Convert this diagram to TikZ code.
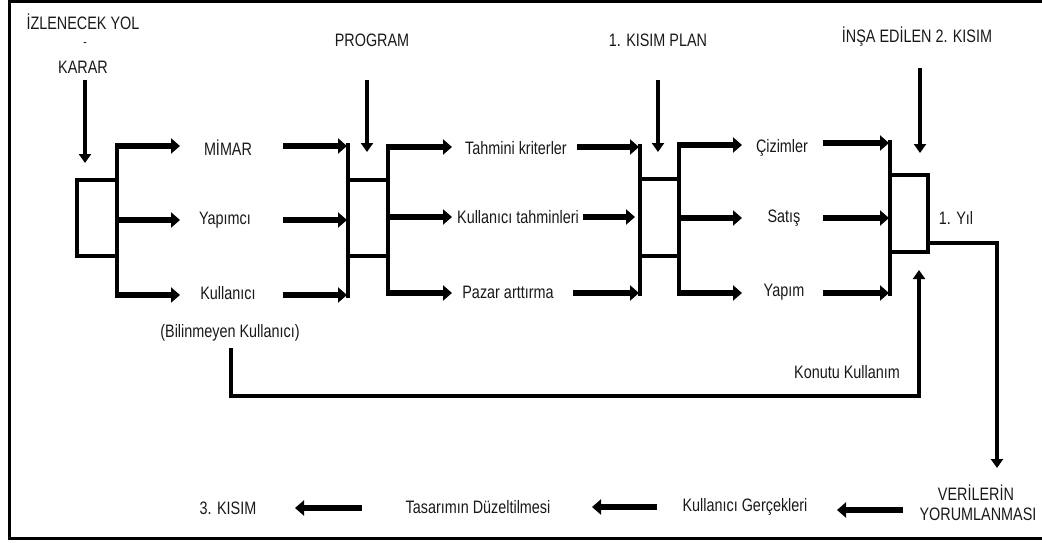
\documentclass[tikz,border=0pt]{standalone}
\usepackage{fontspec}
\setmainfont{Liberation Sans}
\usepackage{graphicx}
\usetikzlibrary{arrows.meta}
\newcommand{\nx}[1]{\scalebox{0.8}[1]{#1}}
\begin{document}
\begin{tikzpicture}[x=1pt,y=-1pt,
  lbl/.style={font=\fontsize{18}{20}\selectfont, inner sep=0pt, text=black!90},
  big/.style={line width=6pt, -{Triangle[length=9pt,width=15pt]}},
  down/.style={line width=4pt, -{Triangle[length=9pt,width=12pt]}},
  bus/.style={line width=4pt},
  boxn/.style={draw, line width=3.5pt, inner sep=0pt, minimum width=40pt, minimum height=76pt},
  loopl/.style={line width=3.5pt, -{Triangle[length=9pt,width=12pt]}},
  frame/.style={line width=3pt}]
\useasboundingbox (0,0) rectangle (1042,543);
\coordinate (f0) at (1042,2);
\coordinate (f1) at (9,2);
\coordinate (f2) at (9,538);
\coordinate (f3) at (1042,538);
\draw[frame] (f0) -- (f1) -- (f2) -- (f3);

% labels
\node[lbl] (izl) at (83,22) {\nx{İZLENECEK YOL}};
\node[lbl, font=\fontsize{13}{13}\selectfont] (dsh) at (85,45) {\nx{-}};
\node[lbl] (karar) at (83,67) {\nx{KARAR}};
\node[lbl] (prog) at (372,40) {\nx{PROGRAM}};
\node[lbl] (plan1) at (658,40) {\nx{1. KISIM PLAN}};
\node[lbl] (insa) at (917,37) {\nx{İNŞA EDİLEN 2. KISIM}};
\node[lbl] (mimar) at (228,148) {\nx{MİMAR}};
\node[lbl] (yapimci) at (225,220) {\nx{Yapımcı}};
\node[lbl] (kull) at (228,293) {\nx{Kullanıcı}};
\node[lbl] (tk) at (516,148) {\nx{Tahmini kriterler}};
\node[lbl] (kt) at (518,217) {\nx{Kullanıcı tahminleri}};
\node[lbl] (pa) at (508,292) {\nx{Pazar arttırma}};
\node[lbl] (ciz) at (782,148) {\nx{Çizimler}};
\node[lbl] (sat) at (784,218) {\nx{Satış}};
\node[lbl] (yap) at (784,292) {\nx{Yapım}};
\node[lbl] (yil) at (956,218) {\nx{1. Yıl}};
\node[lbl] (bil) at (230,333) {\nx{(Bilinmeyen Kullanıcı)}};
\node[lbl] (kon) at (847,372) {\nx{Konutu Kullanım}};
\node[lbl] (ver1) at (976,493) {\nx{VERİLERİN}};
\node[lbl] (ver2) at (978,514) {\nx{YORUMLANMASI}};
\node[lbl] (kg) at (745,507) {\nx{Kullanıcı Gerçekleri}};
\node[lbl] (td) at (478,507) {\nx{Tasarımın Düzeltilmesi}};
\node[lbl] (k3) at (228,508) {\nx{3. KISIM}};

% boxes
\node[boxn] (b1) at (97,218) {};
\node[boxn] (b2) at (368,218) {};
\node[boxn, minimum width=39pt, minimum height=77pt] (b3) at (659.5,217.5) {};
\node[boxn, minimum width=38pt, minimum height=77pt] (b4) at (909,213.5) {};

% down arrows
\foreach \nm/\xx/\ys/\ye in {d1/85/80/163, d2/367/80/152, d3/658/80/152, d4/920/68/153} {
  \coordinate (\nm s) at (\xx,\ys);
  \coordinate (\nm e) at (\xx,\ye);
  \draw[down] (\nm s) -- (\nm e);
}

% buses
\foreach \nm/\xx/\yt/\yb in {u1/117/143/298, u2/348/143/298, u3/388/144/296, u4/640/144/296, u5/679/142/296, u6/890/140/296} {
  \coordinate (\nm t) at (\xx,\yt);
  \coordinate (\nm b) at (\xx,\yb);
  \draw[bus] (\nm t) -- (\nm b);
}

% horizontal arrows
\foreach \nm/\xs/\xe/\yy in {
  a1/115/180/146, a2/119/180/220, a3/115/180/295,
  b1/283/347/146, b2/283/347/220, b3/283/347/295,
  c1/386/452/147, c2/390/452/217, c3/386/452/293,
  e1/577/639/147, e2/583/635/217, e3/573/639/293,
  g1/677/742/145, g2/681/742/218, g3/677/742/293,
  h1/823/889/143, h2/823/889/218, h3/823/889/293,
  k1/362/295/508, k2/657/592/507, k3/903/837/510} {
  \coordinate (\nm s) at (\xs,\yy);
  \coordinate (\nm e) at (\xe,\yy);
  \draw[big] (\nm s) -- (\nm e);
}

% feedback loop
\coordinate (l0) at (231,348);
\coordinate (l2) at (919,396);
\coordinate (l3) at (919,270);
\draw[loopl] (l0) |- (l2) -- (l3);

% output line
\coordinate (o0) at (928,243);
\coordinate (o2) at (997,468);
\draw[loopl] (o0) -| (o2);
\end{tikzpicture}
\end{document}
